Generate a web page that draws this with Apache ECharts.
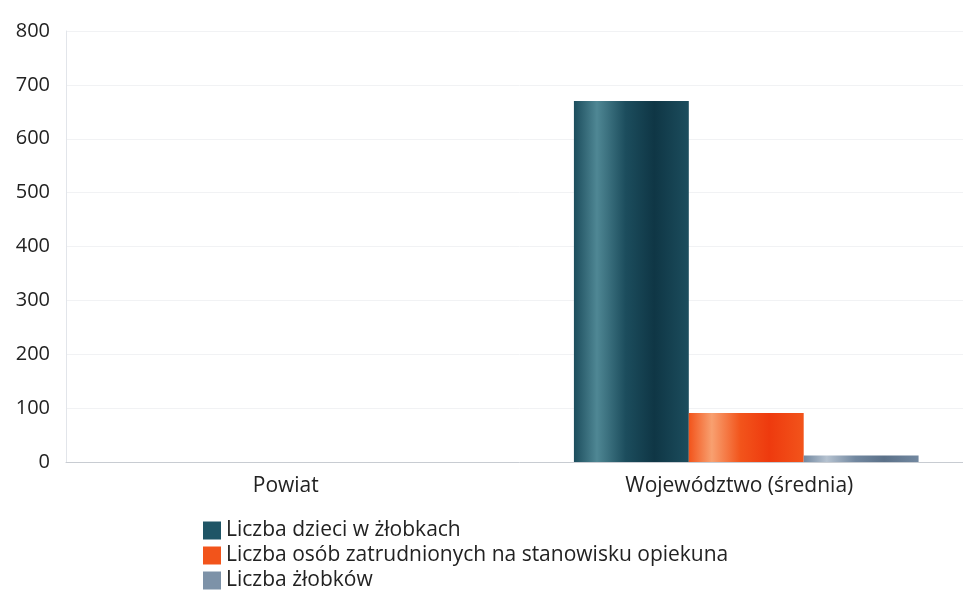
<!DOCTYPE html>
<html><head><meta charset="utf-8">
<script src="https://cdn.jsdelivr.net/npm/echarts@6/dist/echarts.min.js"></script>
<style>html,body{margin:0;padding:0;background:#fff;overflow:hidden}#c{width:990px;height:590px}</style>
</head><body><div id="c"></div>
<script>
const categories = ["Powiat", "Województwo (średnia)"];
const seriesNames = ["Liczba dzieci w żłobkach", "Liczba osób zatrudnionych na stanowisku opiekuna", "Liczba żłobków"];
const dzieci = [0, 670];
const opiekunowie = [0, 91];
const zlobki = [0, 12];
const yTicks = [0, 100, 200, 300, 400, 500, 600, 700, 800];

function grad(c1, c2, c3) {
  return new echarts.graphic.LinearGradient(0, 0, 1, 0, [
    {offset: 0, color: c1}, {offset: 0.2, color: c2}, {offset: 0.45, color: c1},
    {offset: 0.7, color: c3}, {offset: 1, color: c1}
  ]);
}
const colors = ['#1f5566', '#f2541b', '#7d92a8'];
const chart = echarts.init(document.getElementById('c'));
chart.setOption({
  animation: false,
  textStyle: {fontFamily: 'Open Sans'},
  grid: {left: 66, right: 17, top: 31, bottom: 128},
  legend: {
    orient: 'vertical', left: 203, top: 520, itemGap: 4, itemWidth: 18, itemHeight: 18,
    padding: 0, height: 80,
    icon: 'rect', textStyle: {fontSize: 21, color: '#222', fontFamily: 'Open Sans', lineHeight: 21},
    data: seriesNames.map((n, i) => ({name: n, itemStyle: {color: colors[i]}}))
  },
  xAxis: {
    type: 'category', data: categories,
    axisLine: {lineStyle: {color: '#c8ccd2'}}, axisTick: {show: false},
    axisLabel: {fontSize: 21, color: '#222', margin: 14, padding: [0, 14, 0, 0]}
  },
  yAxis: {
    type: 'value', min: 0, max: 800, interval: 100,
    axisLine: {show: true, lineStyle: {color: '#e2e5ea'}},
    splitLine: {lineStyle: {color: '#f1f2f4'}},
    axisLabel: {fontSize: 20, color: '#222', margin: 16,
      formatter: v => yTicks.includes(v) ? String(v) : ''}
  },
  series: [
    {name: seriesNames[0], type: 'bar', data: dzieci, barGap: '0%', barCategoryGap: '24%',
     itemStyle: {color: grad('#1c4d5d', '#4f8794', '#0f3645')}},
    {name: seriesNames[1], type: 'bar', data: opiekunowie,
     itemStyle: {color: grad('#f2541b', '#f8a070', '#ee3a0e')}},
    {name: seriesNames[2], type: 'bar', data: zlobki,
     itemStyle: {color: grad('#7288a0', '#b5c2d0', '#5b7189')}}
  ]
});
</script></body></html>
